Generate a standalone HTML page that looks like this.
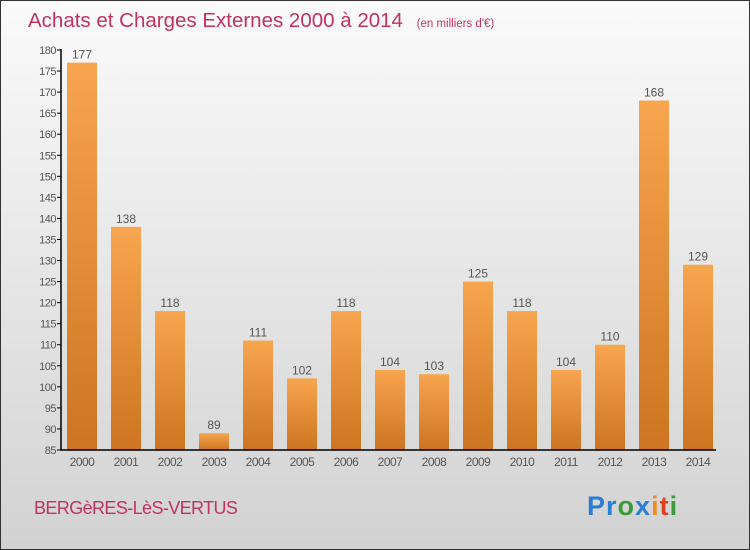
<!DOCTYPE html>
<html><head><meta charset="utf-8"><style>
body{margin:0;width:750px;height:550px;overflow:hidden;font-family:"Liberation Sans",sans-serif}
#wrap{position:absolute;left:0;top:0;width:748px;height:548px;border:1px solid #333;background:linear-gradient(#fafafa,#d2d2d2)}
</style></head><body>
<div id="wrap">
<svg width="750" height="550" style="position:absolute;left:-1px;top:-1px">
<defs><linearGradient id="bg" x1="0" y1="0" x2="0" y2="1"><stop offset="0" stop-color="#f7a54e"/><stop offset="1" stop-color="#cd7520"/></linearGradient></defs>
<text x="28" y="27" font-size="20.5" fill="#c0335f">Achats et Charges Externes 2000 à 2014 <tspan font-size="11.5" dx="8">(en milliers d'€)</tspan></text>
<g id="plot"></g>
<text x="34" y="514" font-size="18" fill="#c0335f" letter-spacing="-0.6">BERGèRES-LèS-VERTUS</text>
<text x="587" y="515" font-size="27" font-weight="bold" letter-spacing="1"><tspan fill="#2a7fd4">Pr</tspan><tspan fill="#3a9a3a">o</tspan><tspan fill="#2a7fd4">x</tspan><tspan fill="#f08a1a">i</tspan><tspan fill="#e04020">t</tspan><tspan fill="#3a9a3a">i</tspan></text>
</svg></div>
<script>
const years=["2000","2001","2002","2003","2004","2005","2006","2007","2008","2009","2010","2011","2012","2013","2014"];
const values=[177,138,118,89,111,102,118,104,103,125,118,104,110,168,129];
const yTicks=[85,90,95,100,105,110,115,120,125,130,135,140,145,150,155,160,165,170,175,180];
const NS="http://www.w3.org/2000/svg",g=document.getElementById('plot');
const y=v=>450-(v-85)*400/95, x=i=>82+i*44;
function mk(t,a){const e=document.createElementNS(NS,t);for(const k in a)e.setAttribute(k,a[k]);g.appendChild(e);return e;}
yTicks.forEach(v=>{const l=mk('line',{x1:57,x2:61,y1:y(v),y2:y(v),stroke:'#000'});


const t=mk('text',{x:56,y:y(v)+4,'font-size':11,fill:'#555','text-anchor':'end','letter-spacing':'-0.5'});t.textContent=v;

});
values.forEach((v,i)=>{const r=mk('rect',{x:x(i)-15,y:y(v),width:30,height:450-y(v),fill:'url(#bg)'});


const t=mk('text',{x:x(i),y:y(v)-4,'font-size':12,fill:'#555','text-anchor':'middle'});t.textContent=v;


const yl=mk('text',{x:x(i),y:466,'font-size':12,fill:'#555','text-anchor':'middle','letter-spacing':'-0.5'});yl.textContent=years[i];

});
const ax=mk('path',{d:'M61,49V450H716',stroke:'#000',fill:'none','stroke-width':1.5});


</script>
</body></html>
